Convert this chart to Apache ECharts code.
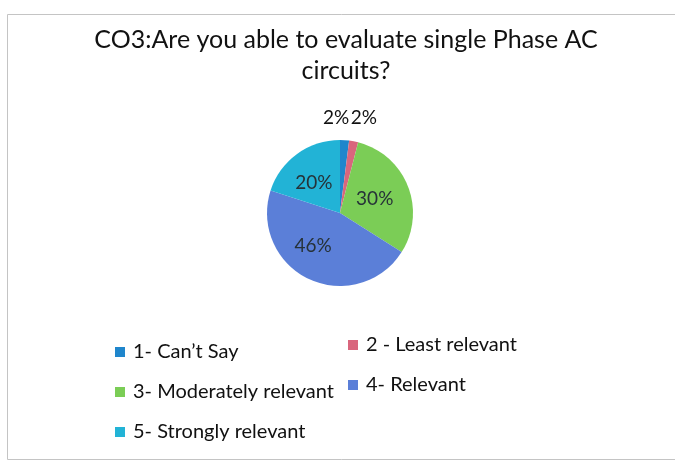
<!DOCTYPE html>
<html>
<head>
<meta charset="utf-8">
<script src="https://cdn.jsdelivr.net/npm/echarts@6/dist/echarts.min.js"></script>
<style>
html,body{margin:0;padding:0;background:#fff;}
#chart{width:675px;height:466px;}
</style>
</head>
<body>
<div id="chart"></div>
<script>
var titleText = 'CO3:Are you able to evaluate single Phase AC\ncircuits?';
var categories = ['1- Can\u2019t Say', '2 - Least relevant', '3- Moderately relevant', '4- Relevant', '5- Strongly relevant'];
var values = [2, 2, 30, 46, 20];
var colors = ['#1f86cc', '#d9667d', '#7bcd56', '#5b7fd8', '#22b3d6'];
var leftLegendItems = [categories[0], categories[2], categories[4]];
var rightLegendItems = [categories[1], categories[3]];

var FONT = 'Lato, "Open Sans", sans-serif';
var chart = echarts.init(document.getElementById('chart'));

var data = categories.map(function (c, i) {
  var small = values[i] < 5;
  return {
    name: c,
    value: values[i],
    itemStyle: { color: colors[i] },
    label: small ? { position: 'outside', color: '#111' } : { position: 'inside', color: '#263238' }
  };
});

var labelShift = { 0: [-28, 0], 1: [-12, -2], 2: [-2, 0], 3: [-10, -3], 4: [-3, 2] };

var legendCommon = {
  orient: 'vertical',
  icon: 'rect',
  itemWidth: 10,
  itemHeight: 10,
  itemGap: 18,
  textStyle: { fontFamily: FONT, fontSize: 20, lineHeight: 22, color: '#111', padding: [0, 0, 0, 3] },
  selectedMode: false
};

chart.setOption({
  backgroundColor: '#fff',
  animation: false,
  title: {
    text: titleText,
    left: 341,
    top: 19,
    textAlign: 'center',
    textStyle: { fontFamily: FONT, fontSize: 25, fontWeight: 'normal', color: '#111', lineHeight: 31 }
  },
  graphic: [{
    type: 'rect',
    shape: { x: 7.5, y: 14.5, width: 700, height: 445 },
    style: { fill: 'none', stroke: '#c4c4c4', lineWidth: 1 },
    silent: true
  }],
  legend: [
    Object.assign({ data: leftLegendItems, left: 110, top: 336 }, legendCommon),
    Object.assign({ data: rightLegendItems, left: 343, top: 329 }, legendCommon)
  ],
  series: [{
    type: 'pie',
    center: [340, 213],
    radius: 73,
    startAngle: 90,
    clockwise: true,
    avoidLabelOverlap: false,
    label: {
      show: true,
      formatter: '{d}%',
      fontFamily: FONT,
      fontSize: 19
    },
    labelLine: { show: false, length: 22, length2: 0 },
    labelLayout: function (p) {
      var s = labelShift[p.dataIndex];
      if (s) return { dx: s[0], dy: s[1] };
      return {};
    },
    itemStyle: { borderWidth: 0 },
    emphasis: { disabled: true },
    data: data
  }]
});
</script>
</body>
</html>
